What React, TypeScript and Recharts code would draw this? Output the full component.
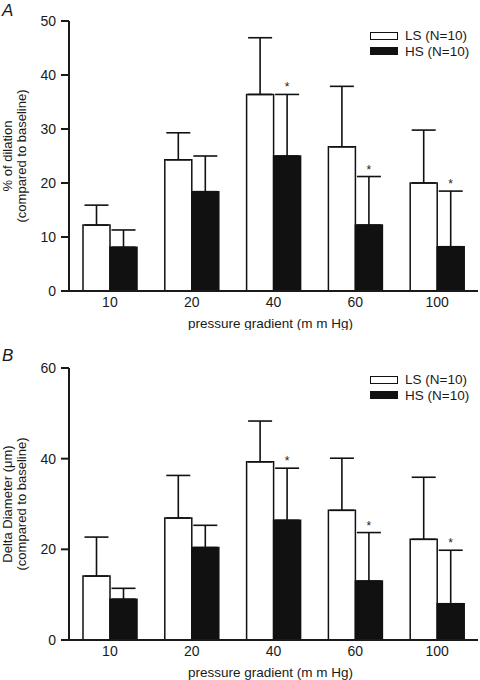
import React from "react";
import {
  BarChart,
  Bar,
  XAxis,
  YAxis,
  ErrorBar,
  LabelList,
  Label,
} from "recharts";

const pressures = ["10", "20", "40", "60", "100"];
const significant = [false, false, true, true, true];

// panel A: % of dilation
const dilationLS = [12.2, 24.3, 36.4, 26.7, 20.0];
const dilationLSsd = [3.7, 5.0, 10.5, 11.2, 9.8];
const dilationHS = [8.1, 18.4, 25.0, 12.2, 8.2];
const dilationHSsd = [3.2, 6.6, 11.4, 9.0, 10.3];
const dilationTicks = [0, 10, 20, 30, 40, 50];

// panel B: delta diameter
const diameterLS = [14.1, 26.9, 39.3, 28.6, 22.2];
const diameterLSsd = [8.6, 9.4, 9.0, 11.5, 13.7];
const diameterHS = [9.0, 20.4, 26.4, 13.0, 8.0];
const diameterHSsd = [2.4, 4.9, 11.5, 10.7, 11.8];
const diameterTicks = [0, 20, 40, 60];

const legendNames = ["LS (N=10)", "HS (N=10)"];

const FONT = '"Liberation Sans", Arial, Helvetica, sans-serif';
const INK = "#1a1a1a";

function buildRows(ls: number[], lsSd: number[], hs: number[], hsSd: number[]) {
  return pressures.map((p, i) => ({
    p,
    ls: ls[i],
    lsErr: [0, lsSd[i]],
    hs: hs[i],
    hsErr: [0, hsSd[i]],
    hsSd: hsSd[i],
    star: significant[i] ? "*" : "",
  }));
}

function StarLabel(props: any) {
  const { x, y, width, height, value, index, rows } = props;
  if (!value) return null;
  const row = rows[index];
  const pxPerUnit = height / row.hs;
  const capY = y - row.hsSd * pxPerUnit;
  return (
    <text
      x={x + width / 2}
      y={capY - 3}
      textAnchor="middle"
      fontSize={12}
      fontFamily={FONT}
      fill={INK}
    >
      *
    </text>
  );
}

function LegendBox(props: { top: number }) {
  const fills = ["#ffffff", "#111111"];
  return (
    <div
      style={{
        position: "absolute",
        left: 370,
        top: props.top,
        fontFamily: FONT,
        fontSize: 13.5,
        color: INK,
      }}
    >
      {legendNames.map((name, i) => (
        <div
          key={name}
          style={{ display: "flex", alignItems: "center", height: 15.5 }}
        >
          <span
            style={{
              display: "inline-block",
              width: 26,
              height: 6,
              background: fills[i],
              border: "1px solid #111",
              marginRight: 7,
            }}
          />
          <span>{name}</span>
        </div>
      ))}
    </div>
  );
}

function YTitle(props: any) {
  const { viewBox, lines } = props;
  const cy = viewBox.y + viewBox.height / 2;
  const xs = [7, 21];
  return (
    <g>
      {lines.map((t: string, i: number) => (
        <text
          key={i}
          x={xs[i]}
          y={cy}
          transform={`rotate(-90, ${xs[i]}, ${cy})`}
          textAnchor="middle"
          dominantBaseline="central"
          fontSize={13}
          fontFamily={FONT}
          fill={INK}
        >
          {t}
        </text>
      ))}
    </g>
  );
}

function Panel(props: {
  rows: any[];
  ticks: number[];
  max: number;
  height: number;
  top: number;
  bottom: number;
  yLines: string[];
}) {
  const { rows, ticks, max, height, top, bottom, yLines } = props;
  return (
    <BarChart
      width={480}
      height={height}
      data={rows}
      margin={{ top, right: 2, left: 0, bottom: 0 }}
      barSize={27}
      barGap={0}
      style={{ fontFamily: FONT }}
    >
      <XAxis
        dataKey="p"
        height={bottom}
        tickLine={false}
        axisLine={{ stroke: INK, strokeWidth: 2 }}
        tick={{ fontSize: 14, fill: INK, fontFamily: FONT }}
        tickMargin={0}
      >
        <Label
          content={(lp: any) => (
            <text
              x={lp.viewBox.x + lp.viewBox.width / 2 - 3}
              y={lp.viewBox.y + 32}
              textAnchor="middle"
              dominantBaseline="central"
              fontSize={13.5}
              fontFamily={FONT}
              fill={INK}
            >
              pressure gradient (m m Hg)
            </text>
          )}
        />
      </XAxis>
      <YAxis
        width={69}
        domain={[0, max]}
        ticks={ticks}
        interval={0}
        tickSize={8}
        tickMargin={5}
        axisLine={{ stroke: INK, strokeWidth: 2 }}
        tickLine={{ stroke: INK, strokeWidth: 2 }}
        tick={{ fontSize: 14, fill: INK, fontFamily: FONT }}
      >
        <Label content={(lp: any) => <YTitle {...lp} lines={yLines} />} />
      </YAxis>
      <Bar
        dataKey="ls"
        fill="#ffffff"
        stroke="#111"
        strokeWidth={1.5}
        isAnimationActive={false}
      >
        <ErrorBar
          dataKey="lsErr"
          direction="y"
          width={12}
          stroke="#111"
          strokeWidth={1.6}
        />
      </Bar>
      <Bar
        dataKey="hs"
        fill="#111111"
        stroke="#111"
        strokeWidth={1.5}
        isAnimationActive={false}
      >
        <ErrorBar
          dataKey="hsErr"
          direction="y"
          width={12}
          stroke="#111"
          strokeWidth={1.6}
        />
        <LabelList
          dataKey="star"
          content={(lp: any) => <StarLabel {...lp} rows={rows} />}
        />
      </Bar>
    </BarChart>
  );
}

export default function App() {
  const rowsA = buildRows(dilationLS, dilationLSsd, dilationHS, dilationHSsd);
  const rowsB = buildRows(diameterLS, diameterLSsd, diameterHS, diameterHSsd);
  const panelLetter = {
    position: "absolute" as const,
    left: 2,
    fontSize: 17,
    fontStyle: "italic",
    color: INK,
  };
  return (
    <div
      style={{
        position: "absolute",
        left: 0,
        top: 0,
        width: 480,
        height: 680,
        background: "#fff",
        fontFamily: FONT,
      }}
    >
      <div style={{ position: "absolute", left: 0, top: 0 }}>
        <Panel
          rows={rowsA}
          ticks={dilationTicks}
          max={50}
          height={330}
          top={21}
          bottom={39}
          yLines={["% of dilation", "(compared to baseline)"]}
        />
      </div>
      <div style={{ position: "absolute", left: 0, top: 340 }}>
        <Panel
          rows={rowsB}
          ticks={diameterTicks}
          max={60}
          height={340}
          top={28}
          bottom={40}
          yLines={["Delta Diameter (μm)", "(compared to baseline)"]}
        />
      </div>
      <LegendBox top={28} />
      <LegendBox top={372} />
      <div style={{ ...panelLetter, top: 1 }}>A</div>
      <div style={{ ...panelLetter, top: 346 }}>B</div>
    </div>
  );
}
